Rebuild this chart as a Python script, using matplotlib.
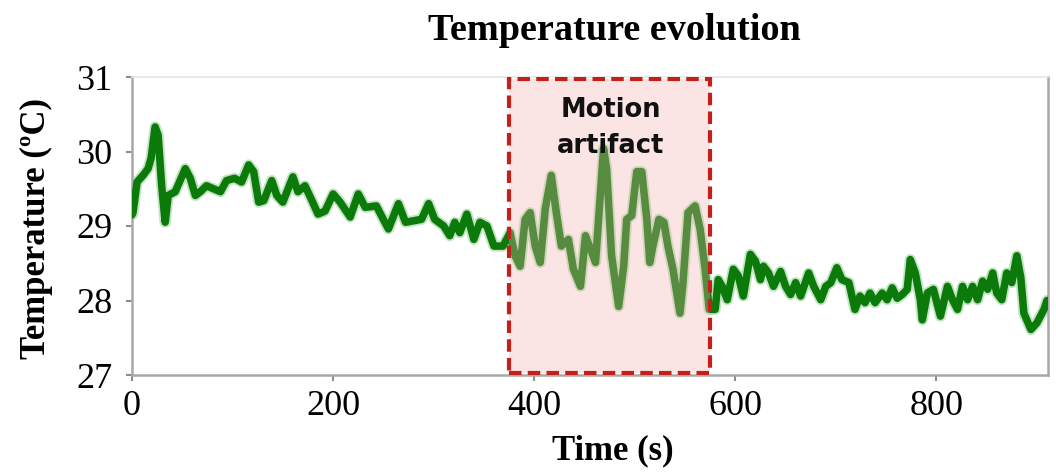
import matplotlib
matplotlib.use("Agg")
import matplotlib.pyplot as plt
from matplotlib.patches import Rectangle

# temperature trace (time in s, temperature in degC)
time_s = [0, 1, 5, 11, 16, 19, 23, 26, 29.5, 33, 36, 43, 53, 58, 63, 68, 74, 81, 88, 94,
          102, 109, 116, 121, 126, 131, 139, 144, 150, 160, 165, 172, 179, 185, 192, 200,
          207, 217, 225, 232, 243, 248, 255, 265, 272, 280, 288, 295, 301, 310, 316, 321,
          326, 333, 340, 346, 353, 360, 369, 376, 381, 386, 391, 396, 401, 406, 411, 417,
          422, 427, 434, 439, 446, 451, 456, 461, 469, 472, 477, 484, 489, 492, 497, 502,
          507, 512, 515, 518, 524, 529, 533, 538, 545, 548, 553, 560, 565, 570, 574, 580,
          583, 587, 592, 598, 603, 608, 615, 620, 625, 628, 633, 638, 645, 650, 655, 660,
          665, 673, 678, 685, 690, 695, 701, 706, 713, 719, 724, 729, 734, 739, 746, 751,
          756, 761, 766, 771, 774, 779, 784, 786, 791, 797, 804, 811, 816, 821, 826, 831,
          836, 841, 846, 851, 856, 860, 865, 870, 875, 880, 884, 887, 894, 900, 907, 910]
temp_c = [29.15, 29.18, 29.59, 29.68, 29.77, 29.91, 30.33, 30.22, 29.54, 29.05, 29.41, 29.46,
          29.77, 29.64, 29.41, 29.46, 29.54, 29.50, 29.46, 29.61, 29.64, 29.59, 29.82, 29.73,
          29.32, 29.34, 29.61, 29.41, 29.32, 29.66, 29.46, 29.54, 29.34, 29.16, 29.20, 29.43,
          29.32, 29.12, 29.43, 29.25, 29.27, 29.14, 28.96, 29.30, 29.05, 29.07, 29.09, 29.30,
          29.09, 29.00, 28.87, 29.05, 28.91, 29.16, 28.82, 29.05, 29.00, 28.73, 28.73, 28.91,
          28.60, 28.46, 29.09, 29.18, 28.73, 28.51, 29.23, 29.68, 29.18, 28.73, 28.82, 28.42,
          28.19, 28.87, 28.69, 28.51, 30.04, 29.77, 28.60, 27.92, 28.46, 29.09, 29.14, 29.73,
          29.73, 29.09, 28.51, 28.73, 29.09, 29.05, 28.73, 28.42, 27.83, 28.24, 29.18, 29.27,
          28.96, 28.42, 27.88, 27.88, 28.28, 28.19, 28.01, 28.42, 28.33, 28.06, 28.62, 28.53,
          28.28, 28.46, 28.37, 28.19, 28.39, 28.19, 28.08, 28.24, 28.06, 28.37, 28.19, 28.01,
          28.19, 28.24, 28.44, 28.28, 28.24, 27.88, 28.06, 27.97, 28.10, 27.97, 28.10, 28.01,
          28.17, 28.03, 28.08, 28.15, 28.55, 28.37, 28.01, 27.74, 28.10, 28.15, 27.79, 28.19,
          28.01, 27.88, 28.19, 28.01, 28.19, 28.01, 28.26, 28.15, 28.37, 28.10, 28.01, 28.37,
          28.24, 28.60, 28.30, 27.83, 27.61, 27.70, 27.88, 28.00]

artifact_start = 375
artifact_end = 575
x_ticks = [0, 200, 400, 600, 800]
y_ticks = [27, 28, 29, 30, 31]

serif = ["Liberation Serif", "DejaVu Serif"]

fig = plt.figure(figsize=(10.56, 4.74), dpi=100)
ax = fig.add_axes([132 / 1056, 1 - 375 / 474, 916 / 1056, 298 / 474])

ax.plot(time_s, temp_c, color="#8fd08f", linewidth=8, alpha=0.55,
        solid_joinstyle="round", solid_capstyle="round", zorder=2)
ax.plot(time_s, temp_c, color="#0b7a0b", linewidth=5.4,
        solid_joinstyle="round", solid_capstyle="round", zorder=3)

box = Rectangle((artifact_start, 27.03), artifact_end - artifact_start, 3.94,
                facecolor="#f4b3ad", alpha=0.33, edgecolor="none", zorder=4)
ax.add_patch(box)
edge = Rectangle((artifact_start, 27.03), artifact_end - artifact_start, 3.94,
                 facecolor="none", edgecolor="#c4201a", linewidth=3.0,
                 linestyle=(0, (3.0, 1.5)), zorder=5)
ax.add_patch(edge)
ax.text(476, 30.32, "Motion\nartifact",
        ha="center", va="center", fontsize=18.5, fontweight="bold",
        family="DejaVu Sans", color="#111111", linespacing=1.5, zorder=6)

ax.set_xlim(0, 911)
ax.set_ylim(27, 31)
ax.set_xticks(x_ticks)
ax.set_yticks(y_ticks)
ax.tick_params(axis="both", length=4, width=1.5, color="#8c8c8c", labelsize=26)
ax.tick_params(axis="x", pad=7)
ax.tick_params(axis="y", pad=10)
for lab in ax.get_xticklabels() + ax.get_yticklabels():
    lab.set_family(serif)

for side in ["left", "bottom", "right"]:
    ax.spines[side].set_color("#a8a8a8")
    ax.spines[side].set_linewidth(1.8)
ax.spines["top"].set_color("#e6e6e6")
ax.spines["top"].set_linewidth(1.2)

ax.set_xlabel("Time (s)", fontsize=25, fontweight="bold", family=serif)
ax.xaxis.set_label_coords((613 - 132) / 916, -0.2)
ax.set_ylabel("Temperature (ºC)", fontsize=25, fontweight="bold", family=serif)
ax.yaxis.set_label_coords(-0.086, 0.49)

fig.text(614 / 1056, 1 - 31 / 474, "Temperature evolution", ha="center", va="center",
         fontsize=27.5, fontweight="bold", family=serif)

plt.savefig("out.png", dpi=100)
plt.close(fig)
